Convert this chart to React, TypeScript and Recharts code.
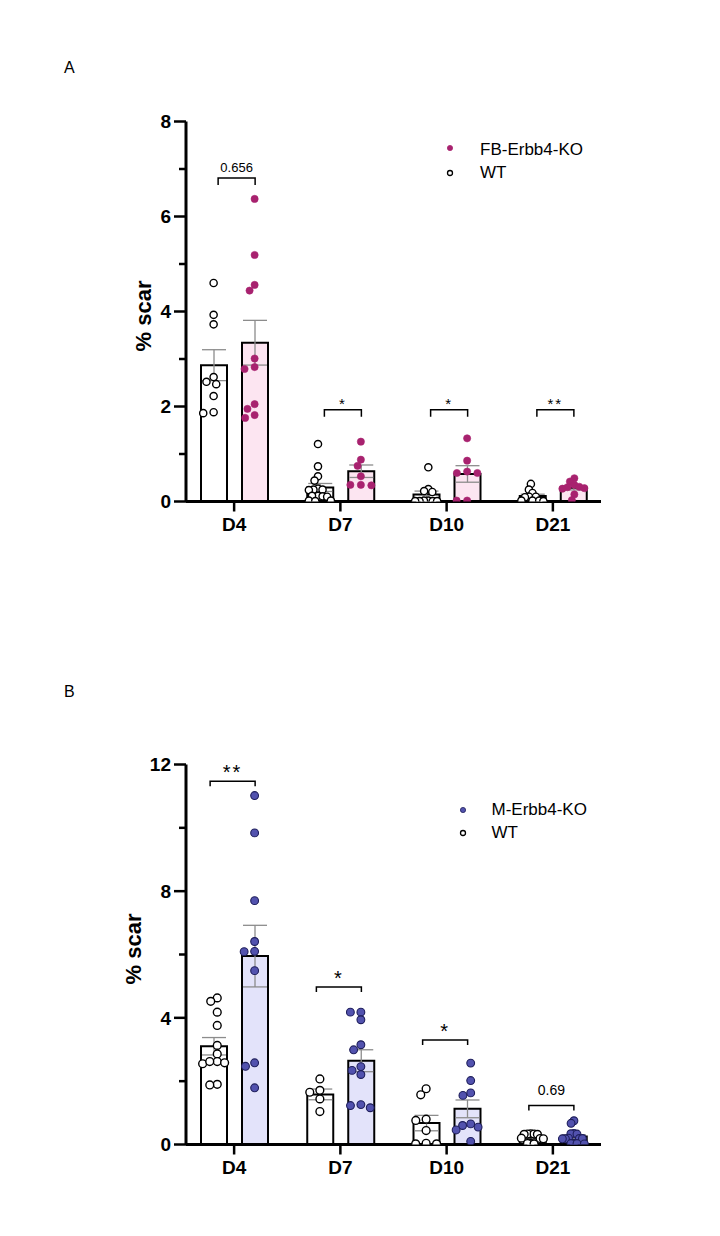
import React from 'react';
import { ComposedChart, Bar, ErrorBar, Scatter, XAxis, YAxis, Legend } from 'recharts';

const FONT = '"Liberation Sans", Arial, Helvetica, sans-serif';

const categories = ['D4', 'D7', 'D10', 'D21'];

// Panel A — % scar per animal, WT vs FB-Erbb4-KO
const fbWT = [
  [4.6, 3.93, 3.73, 2.62, 2.52, 2.47, 2.22, 1.86, 1.88],
  [1.21, 0.74, 0.53, 0.44, 0.27, 0.25, 0.25, 0.24, 0.12, 0.12, 0.11, 0.1, 0.02, 0.02, 0.01],
  [0.72, 0.26, 0.22, 0.2, 0.02, 0.02, 0.01, 0.01, 0.01, 0.01],
  [0.37, 0.25, 0.18, 0.1, 0.1, 0.09, 0.02, 0.02, 0.02, 0.01],
];
const fbKO = [
  [6.37, 5.19, 4.56, 4.44, 3.01, 2.79, 2.83, 2.05, 1.95, 1.82, 1.76],
  [1.26, 0.88, 0.75, 0.53, 0.35, 0.34, 0.35],
  [1.33, 0.86, 0.63, 0.6, 0.6, 0.02, 0.02],
  [0.49, 0.42, 0.35, 0.31, 0.3, 0.28, 0.27, 0.15, 0.03],
];
const fbPLabels = ['0.656', '*', '*', '**'];
const fbBracketLevels = [6.81, 1.93, 1.93, 1.93];

// Panel B — % scar per animal, WT vs M-Erbb4-KO
const mWT = [
  [4.63, 4.52, 4.18, 3.76, 3.13, 2.86, 2.62, 2.55, 2.58, 2.62, 1.9, 1.88],
  [2.07, 1.71, 1.65, 1.44, 1.04],
  [1.76, 1.57, 0.8, 0.76, 0.44, 0.04, 0.02, 0.02],
  [0.34, 0.33, 0.33, 0.32, 0.32, 0.2, 0.19, 0.18, 0.03, 0.03, 0.02],
];
const mKO = [
  [11.02, 9.84, 7.7, 6.41, 6.09, 6.1, 5.49, 2.58, 2.47, 1.79],
  [4.18, 4.18, 3.94, 3.15, 2.99, 2.46, 2.34, 2.21, 1.16, 1.26, 1.23],
  [2.57, 2.02, 1.63, 1.55, 0.65, 0.55, 0.6, 0.46, 0.1],
  [0.75, 0.67, 0.35, 0.34, 0.33, 0.2, 0.19, 0.19, 0.18, 0.18, 0.04, 0.03, 0.03, 0.02],
];
const mPLabels = ['**', '*', '*', '0.69'];
const mBracketLevels = [11.47, 4.97, 3.3, 1.23];

const fbTicks = [0, 1, 2, 3, 4, 5, 6, 7, 8];
const fbTickLabels = [0, 2, 4, 6, 8];
const mTicks = [0, 2, 4, 6, 8, 10, 12];
const mTickLabels = [0, 4, 8, 12];

// ---- layout ----
const CHART_W = 640;
const CHART_H = 544;
const Y_AXIS_W = 60;
const MARGIN = { top: 113.5, right: 47, bottom: 10.5, left: 118 };
const PLOT_W = CHART_W - MARGIN.left - MARGIN.right - Y_AXIS_W;
const PLOT_H = 380;
const X_PAD = -5;
const BAND_PX = (PLOT_W - 2 * X_PAD) / categories.length;
const BAR_SIZE = 26;
const BAR_GAP = 15;
const SIDE_OFF = (BAR_SIZE + BAR_GAP) / 2 / BAND_PX;
const MAX_HALF = 11;
const TICK_FONT = 19;

const mean = (a: number[]) => a.reduce((s, v) => s + v, 0) / a.length;
const sem = (a: number[]) => {
  const m = mean(a);
  const v = a.reduce((s, x) => s + (x - m) * (x - m), 0) / (a.length - 1);
  return Math.sqrt(v) / Math.sqrt(a.length);
};

// beeswarm with an elliptical keep-out zone (sx wide, sy tall), squeezed to a max half-width
function swarm(values: number[], pxPerY: number, sx: number, sy: number): number[] {
  const order = values.map((_, i) => i).sort((a, b) => values[b] - values[a]);
  const placed: { x: number; y: number }[] = [];
  const out = new Array(values.length).fill(0);
  const hit = (x: number, y: number, p: { x: number; y: number }) =>
    ((p.x - x) / sx) ** 2 + ((p.y - y) / sy) ** 2 < 1 - 1e-6;
  for (const i of order) {
    const y = values[i] * pxPerY;
    const cands = [0];
    for (const p of placed) {
      const dy = Math.abs(p.y - y);
      if (dy < sy) {
        const dx = sx * Math.sqrt(1 - (dy / sy) ** 2);
        cands.push(p.x + dx, p.x - dx);
      }
    }
    const ok = cands.filter((c) => placed.every((p) => !hit(c, y, p)));
    ok.sort((a, b) => Math.abs(a) - Math.abs(b) || a - b);
    out[i] = ok[0];
    placed.push({ x: ok[0], y });
  }
  const lo = Math.min(...out);
  const hi = Math.max(...out);
  const half = (hi - lo) / 2;
  if (half > MAX_HALF) {
    const mid = (hi + lo) / 2;
    const k = MAX_HALF / half;
    return out.map((o) => (o - mid) * k);
  }
  return out;
}

function buildPoints(groups: number[][], side: number, pxPerY: number, sx: number, sy: number) {
  const pts: { x: number; y: number }[] = [];
  groups.forEach((vals, gi) => {
    const offs = swarm(vals, pxPerY, sx, sy);
    vals.forEach((v, k) => {
      pts.push({ x: gi + side * SIDE_OFF + offs[k] / BAND_PX, y: v });
    });
  });
  return pts;
}

type PanelCfg = {
  wt: number[][];
  ko: number[][];
  koName: string;
  yMax: number;
  ticks: number[];
  tickLabels: number[];
  koFill: string;
  koStroke: string;
  koStrokeW: number;
  barFill: string;
  dotR: number;
  sx: number;
  sy: number;
  pLabels: string[];
  bracketLevels: number[];
  bracketL: number;
  bracketR: number;
  legLen: number;
  starSize: number;
  numSize: number;
  starGap: number;
  numGap: number;
  titleX: number;
  titleY: number;
  legendLeft: number;
  legendTop: number;
  legendRows: [number, number];
  legendBase: [number, number];
  legendTextX: number;
};

function YTick(props: any) {
  const { x, y, payload, labelled } = props;
  const v = payload.value;
  const major = labelled.includes(v);
  const len = major ? 12 : 7;
  return (
    <g>
      <line x1={x - len} x2={x} y1={y} y2={y} stroke="#000" strokeWidth={2.5} />
      {major && (
        <text x={x - len - 3} y={y} dy="0.36em" textAnchor="end" fontSize={TICK_FONT} fontWeight={700} fill="#000">
          {v}
        </text>
      )}
    </g>
  );
}

function YTitle({ x0, y0 }: { x0: number; y0: number }) {
  return (
    <text
      x={x0}
      y={y0}
      transform={`rotate(-90, ${x0}, ${y0})`}
      textAnchor="middle"
      fontSize={22}
      fontWeight={700}
      fill="#000"
    >
      % scar
    </text>
  );
}

function Panel({ cfg }: { cfg: PanelCfg }) {
  const pxPerY = PLOT_H / cfg.yMax;
  const rows = categories.map((name, i) => ({
    name,
    wt: mean(cfg.wt[i]),
    ko: mean(cfg.ko[i]),
    wtErr: sem(cfg.wt[i]),
    koErr: sem(cfg.ko[i]),
  }));
  const wtPts = buildPoints(cfg.wt, -1, pxPerY, cfg.sx, cfg.sy);
  const koPts = buildPoints(cfg.ko, 1, pxPerY, cfg.sx, cfg.sy);
  const bracketPts = cfg.bracketLevels.map((h, i) => ({ x: i, y: h, text: cfg.pLabels[i] }));

  const renderBracket = (p: any) => {
    const { cx, cy, payload } = p;
    const l = cx + cfg.bracketL;
    const r = cx + cfg.bracketR;
    const isStar = /^\*+$/.test(payload.text);
    return (
      <g>
        <path
          d={`M${l},${cy + cfg.legLen} L${l},${cy} L${r},${cy} L${r},${cy + cfg.legLen}`}
          fill="none"
          stroke="#000"
          strokeWidth={1.5}
        />
        <text
          x={(l + r) / 2}
          y={cy - (isStar ? cfg.starGap : cfg.numGap)}
          textAnchor="middle"
          fontSize={isStar ? cfg.starSize : cfg.numSize}
          letterSpacing={isStar ? 2 : 0}
          fill="#000"
        >
          {payload.text}
        </text>
      </g>
    );
  };

  const legend = () => (
    <svg width={200} height={52} style={{ display: 'block', overflow: 'visible' }}>
      <circle cx={10} cy={cfg.legendRows[0]} r={2.6} fill={cfg.koFill} stroke={cfg.koStroke} strokeWidth={0.8} />
      <text x={cfg.legendTextX} y={cfg.legendBase[0]} fontSize={17} fill="#000" fontFamily={FONT}>
        {cfg.koName}
      </text>
      <circle cx={10} cy={cfg.legendRows[1]} r={2.5} fill="#fff" stroke="#000" strokeWidth={1.3} />
      <text x={cfg.legendTextX} y={cfg.legendBase[1]} fontSize={17} fill="#000" fontFamily={FONT}>
        WT
      </text>
    </svg>
  );

  return (
    <ComposedChart width={CHART_W} height={CHART_H} data={rows} margin={MARGIN} barGap={BAR_GAP}>
      <XAxis
        xAxisId="cat"
        dataKey="name"
        padding={{ left: X_PAD, right: X_PAD }}
        axisLine={{ stroke: '#000', strokeWidth: 3 }}
        tickLine={{ stroke: '#000', strokeWidth: 2.5 }}
        tickSize={10}
        tickMargin={6}
        height={40}
        tick={{ fill: '#000', fontSize: TICK_FONT, fontWeight: 700 }}
        interval={0}
      />
      <XAxis
        xAxisId="num"
        type="number"
        dataKey="x"
        domain={[-0.5, 3.5]}
        padding={{ left: X_PAD, right: X_PAD }}
        allowDataOverflow
        hide
      />
      <YAxis
        type="number"
        domain={[0, cfg.yMax]}
        ticks={cfg.ticks}
        interval={0}
        width={Y_AXIS_W}
        allowDataOverflow
        axisLine={{ stroke: '#000', strokeWidth: 3 }}
        tickLine={false}
        tickSize={0}
        tickMargin={0}
        tick={(p: any) => <YTick {...p} labelled={cfg.tickLabels} />}
        label={<YTitle x0={cfg.titleX} y0={cfg.titleY} />}
      />
      <Bar
        xAxisId="cat"
        dataKey="wt"
        fill="#ffffff"
        stroke="#000"
        strokeWidth={2}
        barSize={BAR_SIZE}
        isAnimationActive={false}
        legendType="none"
      >
        <ErrorBar dataKey="wtErr" direction="y" width={12} stroke="#8c8c8c" strokeWidth={1.3} />
      </Bar>
      <Bar
        xAxisId="cat"
        dataKey="ko"
        fill={cfg.barFill}
        stroke="#000"
        strokeWidth={2}
        barSize={BAR_SIZE}
        isAnimationActive={false}
        legendType="none"
      >
        <ErrorBar dataKey="koErr" direction="y" width={12} stroke="#8c8c8c" strokeWidth={1.3} />
      </Bar>
      <Scatter
        xAxisId="num"
        data={wtPts}
        dataKey="y"
        isAnimationActive={false}
        legendType="none"
        shape={(p: any) => (
          <circle cx={p.cx} cy={p.cy} r={cfg.dotR} fill="#fff" stroke="#000" strokeWidth={1.4} />
        )}
      />
      <Scatter
        xAxisId="num"
        data={koPts}
        dataKey="y"
        isAnimationActive={false}
        legendType="none"
        shape={(p: any) => (
          <circle cx={p.cx} cy={p.cy} r={cfg.dotR} fill={cfg.koFill} stroke={cfg.koStroke} strokeWidth={cfg.koStrokeW} />
        )}
      />
      <Scatter
        xAxisId="num"
        data={bracketPts}
        dataKey="y"
        isAnimationActive={false}
        legendType="none"
        shape={renderBracket}
      />
      <Legend
        verticalAlign="middle"
        align="center"
        layout="horizontal"
        wrapperStyle={{ left: cfg.legendLeft, top: cfg.legendTop, width: 200, height: 52 }}
        content={legend}
      />
    </ComposedChart>
  );
}

const panelA: PanelCfg = {
  wt: fbWT,
  ko: fbKO,
  koName: 'FB-Erbb4-KO',
  yMax: 8,
  ticks: fbTicks,
  tickLabels: fbTickLabels,
  koFill: '#A8226F',
  koStroke: '#A8226F',
  koStrokeW: 0.6,
  barFill: '#FCE5F1',
  dotR: 3.6,
  sx: 10.5,
  sy: 6.5,
  pLabels: fbPLabels,
  bracketLevels: fbBracketLevels,
  bracketL: -16,
  bracketR: 21,
  legLen: 7,
  starSize: 15,
  numSize: 13,
  starGap: 1,
  numGap: 6.5,
  titleX: 143,
  titleY: 308,
  legendLeft: 432,
  legendTop: 127,
  legendRows: [13, 38],
  legendBase: [20, 42.5],
  legendTextX: 40,
};

const panelB: PanelCfg = {
  wt: mWT,
  ko: mKO,
  koName: 'M-Erbb4-KO',
  yMax: 12,
  ticks: mTicks,
  tickLabels: mTickLabels,
  koFill: '#5252AE',
  koStroke: '#1F1F5C',
  koStrokeW: 1.1,
  barFill: '#E3E3FA',
  dotR: 3.9,
  sx: 10.5,
  sy: 7,
  pLabels: mPLabels,
  bracketLevels: mBracketLevels,
  bracketL: -24,
  bracketR: 21,
  legLen: 5,
  starSize: 20,
  numSize: 14,
  starGap: 2.5,
  numGap: 11,
  titleX: 133,
  titleY: 298,
  legendLeft: 445,
  legendTop: 146,
  legendRows: [13, 36],
  legendBase: [18, 40.5],
  legendTextX: 38.5,
};

export default function App() {
  return (
    <div style={{ position: 'relative', width: 704, height: 1220, fontFamily: FONT, background: '#fff' }}>
      <div style={{ position: 'absolute', left: 56, top: 51, fontSize: 16, lineHeight: 'normal' }}>A</div>
      <div style={{ position: 'absolute', left: 0, top: 0 }}>
        <Panel cfg={panelA} />
      </div>
      <div style={{ position: 'absolute', left: 56, top: 675, fontSize: 16, lineHeight: 'normal' }}>B</div>
      <div style={{ position: 'absolute', left: 0, top: 643 }}>
        <Panel cfg={panelB} />
      </div>
    </div>
  );
}
